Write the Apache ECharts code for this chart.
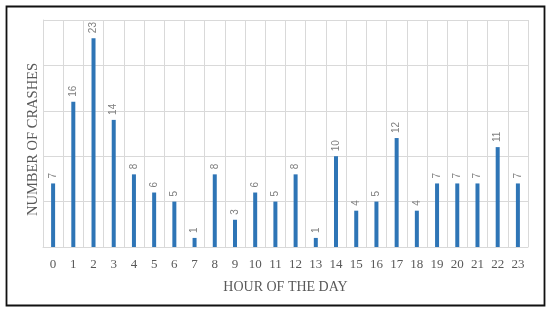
<!DOCTYPE html>
<html><head><meta charset="utf-8">
<script src="https://cdn.jsdelivr.net/npm/echarts@6/dist/echarts.min.js"></script>
<style>html,body{margin:0;padding:0;background:#fff}#c{width:550px;height:314px}</style>
</head><body><div id="c"></div>
<script>
const hours = ['0','1','2','3','4','5','6','7','8','9','10','11','12','13','14','15','16','17','18','19','20','21','22','23'];
const crashes = [7,16,23,14,8,6,5,1,8,3,6,5,8,1,10,4,5,12,4,7,7,7,11,7];
const yTitle = 'NUMBER OF CRASHES';
const xTitle = 'HOUR OF THE DAY';

const chart = echarts.init(document.getElementById('c'), null, {renderer:'canvas'});
chart.setOption({
  animation:false,
  graphic:[{type:'rect',shape:{x:6.5,y:6.5,width:538,height:299},style:{fill:'none',stroke:'#111',lineWidth:1.8}}],
  grid:{left:43,right:22,top:20,bottom:67},
  xAxis:{type:'category',data:hours,
    name:xTitle,nameLocation:'middle',nameGap:33,
    nameTextStyle:{color:'#595959',fontFamily:'Liberation Serif',fontSize:14},
    axisLine:{show:true,lineStyle:{color:'#d9d9d9'}},axisTick:{show:false},
    axisLabel:{color:'#595959',fontFamily:'Liberation Serif',fontSize:13,margin:11},
    splitLine:{show:true,lineStyle:{color:'#d9d9d9',width:1}}},
  yAxis:{type:'value',min:0,max:25,interval:5,
    name:yTitle,nameLocation:'middle',nameGap:2,nameRotate:90,
    nameTextStyle:{color:'#595959',fontFamily:'Liberation Serif',fontSize:14.5,padding:[0,12,0,0]},
    axisLabel:{show:false},axisLine:{show:true,lineStyle:{color:'#d9d9d9'}},axisTick:{show:false},
    splitLine:{lineStyle:{color:'#d9d9d9',width:1}}},
  series:[{type:'bar',data:crashes,barWidth:4,
    itemStyle:{color:'#2e75b6'},
    label:{show:true,position:'top',rotate:90,align:'left',verticalAlign:'middle',distance:5,
      color:'#7f7f7f',fontFamily:'Liberation Sans',fontSize:10}}]
});
</script></body></html>
